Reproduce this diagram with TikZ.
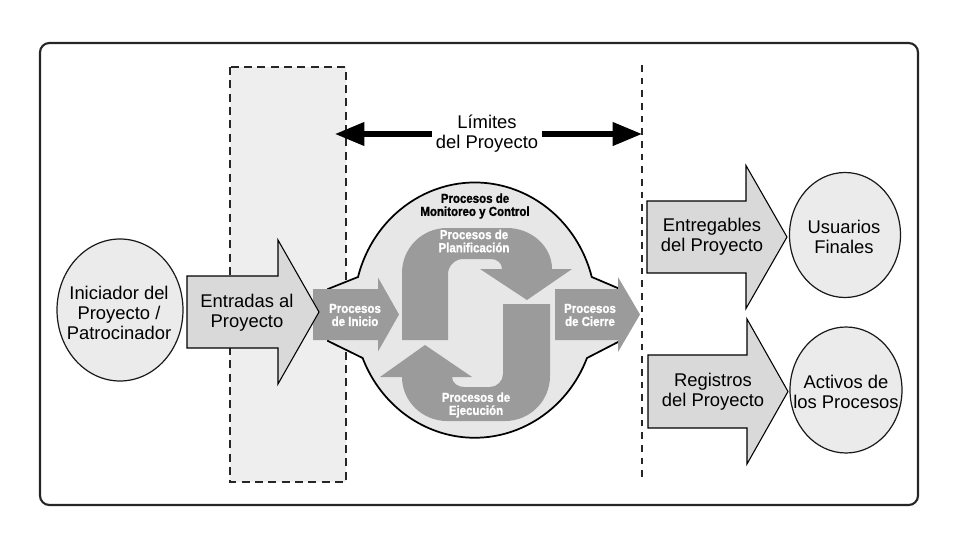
\documentclass[tikz,border=0pt]{standalone}
\usepackage{fontspec}
\setmainfont{Liberation Sans}
\newfontfamily\condfont{Liberation Sans Bold}[FakeStretch=0.88, FakeBold=1.2]
\usepackage{tikz}
\usetikzlibrary{arrows.meta}

\definecolor{lightfill}{HTML}{EEEEEE}
\definecolor{bubblefill}{HTML}{EBEBEB}
\definecolor{arrowfill}{HTML}{D9D9D9}
\definecolor{procfill}{HTML}{9B9B9B}
\definecolor{blobfill}{HTML}{E7E7E7}

\tikzset{
  outerframe/.style={draw=black!85, line width=1.6pt, rounded corners=7pt},
  limitbox/.style={fill=lightfill, draw=black!85, line width=1.4pt, dash pattern=on 6pt off 4pt},
  limitline/.style={draw=black!85, line width=1.1pt, dash pattern=on 5pt off 4.5pt},
  bigarrow/.style={line width=3.8pt, -{Triangle[length=22pt, width=17pt]}},
  lightarrow/.style={fill=arrowfill, draw=black, line width=0.8pt},
  procarrow/.style={fill=procfill, draw=none},
  bubble/.style={fill=bubblefill, draw=black!90, line width=0.9pt},
  blob/.style={fill=blobfill, draw=black, line width=1.3pt},
  bigtxt/.style={align=center, inner sep=0pt, font=\fontsize{13.8}{15}\selectfont},
  proctxt/.style={align=center, inner sep=0pt, text=white, font=\condfont\fontsize{9.8}{9.8}\selectfont},
}

% block arrow: style, left x, head x, tip x, centre y, half shaft, half head
\newcommand{\blockarrow}[7]{%
  \filldraw[#1] (#2,#5-#6) -- (#3,#5-#6) -- (#3,#5-#7) -- (#4,#5)
    -- (#3,#5+#7) -- (#3,#5+#6) -- (#2,#5+#6) -- cycle;}

\begin{document}
\begin{tikzpicture}[x=0.75pt, y=-0.75pt]
  \useasboundingbox (0,0) rectangle (958,536);

  % outer frame
  \draw[outerframe] (40,43) rectangle (918,505);

  % limits of the project
  \filldraw[limitbox] (230,67) rectangle (346,482);
  \draw[limitline] (642,65) -- (642,482);
  \node[bigtxt, inner sep=3pt] (lim) at (487,134) {Límites\\del Proyecto};
  \coordinate (limL) at (335,134);
  \coordinate (limR) at (642,134);
  \draw[bigarrow] (lim) -- (limL);
  \draw[bigarrow] (lim) -- (limR);

  % process group
  \filldraw[blob] (328,289) -- (358,277)
    arc[start angle=195, end angle=345, x radius=121, y radius=127.5]
    -- (620,289) -- (620,341) -- (587,358)
    arc[start angle=22, end angle=158, x radius=121, y radius=127.5]
    -- (328,341) -- cycle;

  % planning arrow
  \fill[procarrow] (402,340) -- (402,273) .. controls (402,248) and (422,228) .. (447,228)
    -- (507,228) .. controls (531,228) and (552,246) .. (552,269) -- (572,269)
    -- (527,300) -- (480,269) -- (502,269) .. controls (502,263) and (497,259) .. (491,259)
    -- (463,259) .. controls (455,259) and (448,266) .. (448,274) -- (448,340) -- cycle;

  % executing arrow
  \fill[procarrow] (503,304) -- (550,304) -- (550,376) .. controls (550,401) and (530,421) .. (505,421)
    -- (447,421) .. controls (422,421) and (402,401) .. (402,377) -- (380,377)
    -- (425,345) -- (472,377) -- (452,377) .. controls (452,383) and (458,387) .. (464,387)
    -- (490,387) .. controls (497,387) and (503,381) .. (503,374) -- cycle;

  % initiating and closing arrows
  \blockarrow{procarrow}{313}{378}{399}{314.5}{25.5}{37}
  \blockarrow{procarrow}{555}{618}{640}{314.5}{25.5}{37.5}

  % inputs, deliverables and records
  \blockarrow{lightarrow}{187}{278}{319}{312}{36}{72}
  \blockarrow{lightarrow}{647}{746}{787}{237}{36}{71.5}
  \blockarrow{lightarrow}{648}{747}{788}{391.5}{36.5}{72.5}

  % circles
  \draw[bubble] (120,310) ellipse [x radius=63, y radius=71];
  \draw[bubble] (845,235) ellipse [x radius=55.5, y radius=62.5];
  \draw[bubble] (846,390) ellipse [x radius=56, y radius=63];

  % labels
  \node[bigtxt] (ini) at (119,313) {Iniciador del\\Proyecto /\\Patrocinador};
  \node[bigtxt] (ent) at (247,313) {Entradas al\\Proyecto};
  \node[bigtxt] (egb) at (712,237) {Entregables\\del Proyecto};
  \node[bigtxt] (usr) at (844,237) {Usuarios\\Finales};
  \node[bigtxt] (reg) at (713,392) {Registros\\del Proyecto};
  \node[bigtxt] (act) at (846,392) {Activos de\\los Procesos};
  \node[proctxt] (pin) at (355,315) {Procesos\\de Inicio};
  \node[proctxt] (pci) at (590,315) {Procesos\\de Cierre};
  \node[proctxt] (ppl) at (474,241) {Procesos de\\Planificación};
  \node[proctxt] (pej) at (476,405) {Procesos de\\Ejecución};
  \node[proctxt, text=black] (pmc) at (475,206) {Procesos de\\Monitoreo y Control};
\end{tikzpicture}
\end{document}
